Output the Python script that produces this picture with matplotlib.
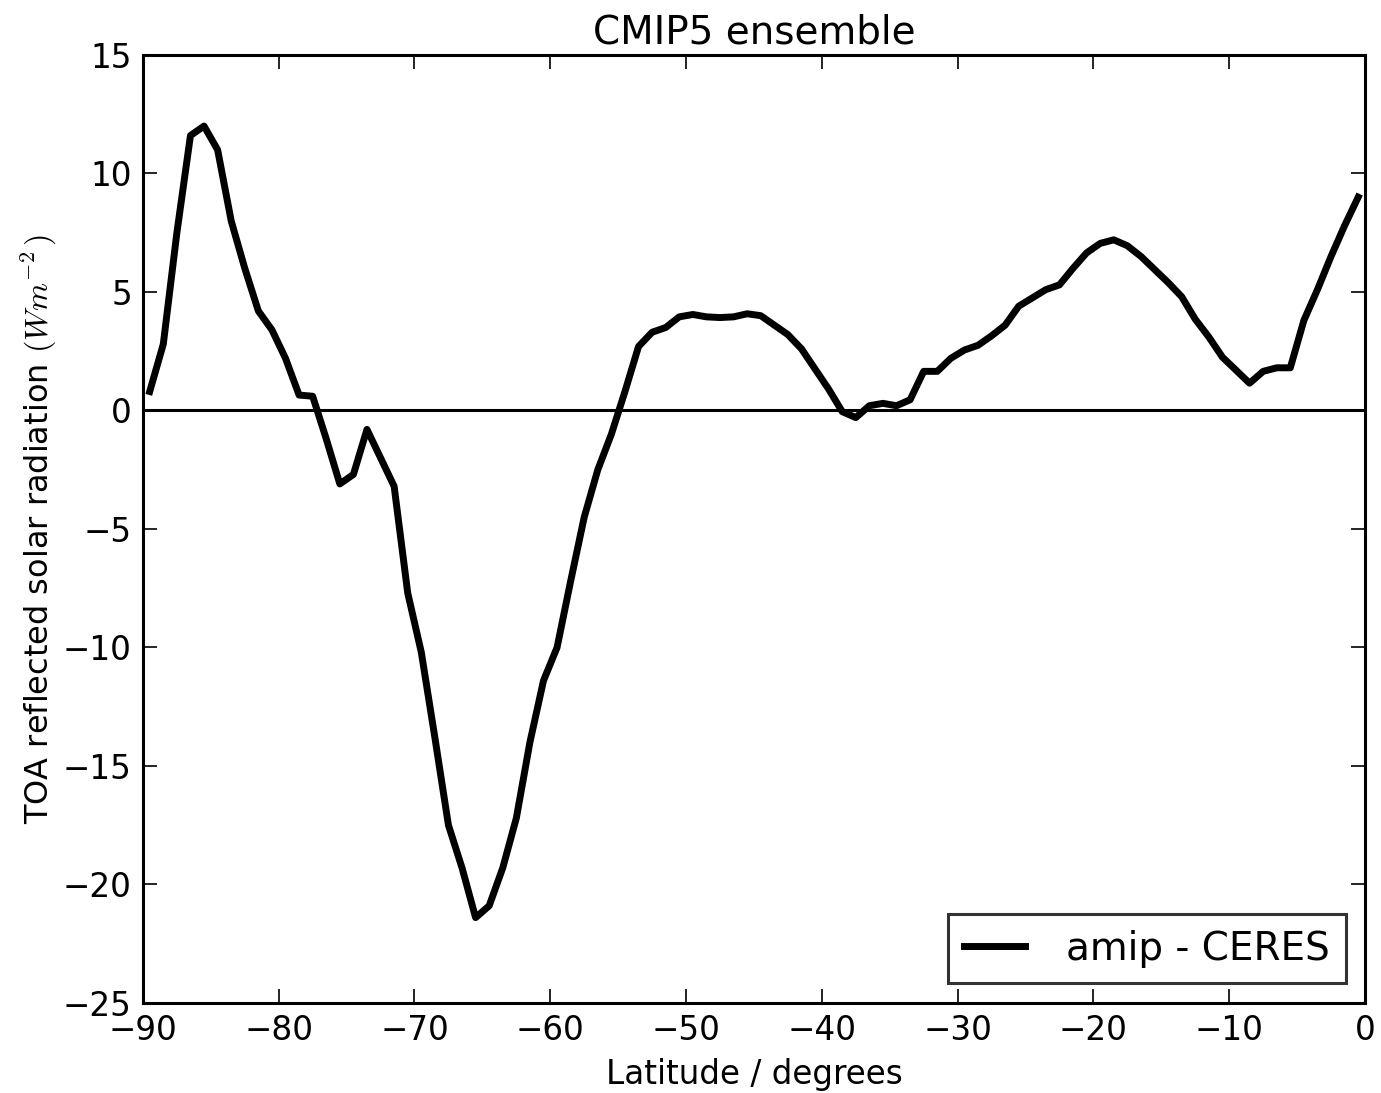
import numpy as np
import matplotlib
matplotlib.use("Agg")
import matplotlib.pyplot as plt

plt.rcParams["mathtext.fontset"] = "cm"

# 1 degree latitude grid (cell centres), -89.5 .. -0.5
lat = np.arange(-89.5, 0.0, 1.0)

# amip - CERES, TOA reflected SW difference (W m-2)
amip_minus_ceres = [
    0.8, 2.8, 7.5, 11.6, 12.0, 11.0, 8.0, 6.0, 4.2, 3.4,
    2.2, 0.65, 0.6, -1.2, -3.1, -2.7, -0.8, -2.0, -3.2, -7.7,
    -10.2, -13.8, -17.5, -19.3, -21.4, -20.9, -19.3, -17.2, -14.0, -11.4,
    -10.0, -7.2, -4.5, -2.5, -1.0, 0.8, 2.7, 3.3, 3.5, 3.95,
    4.05, 3.95, 3.92, 3.95, 4.08, 4.0, 3.6, 3.2, 2.6, 1.75,
    0.9, -0.05, -0.3, 0.2, 0.3, 0.2, 0.45, 1.65, 1.65, 2.2,
    2.55, 2.75, 3.15, 3.6, 4.4, 4.75, 5.1, 5.3, 6.0, 6.65,
    7.05, 7.2, 6.95, 6.5, 5.95, 5.4, 4.8, 3.85, 3.1, 2.25,
    1.7, 1.15, 1.65, 1.8, 1.8, 3.8, 5.1, 6.5, 7.8, 9.0,
]

xticks = [-90, -80, -70, -60, -50, -40, -30, -20, -10, 0]
yticks = [-25, -20, -15, -10, -5, 0, 5, 10, 15]

fig = plt.figure(figsize=(13.81, 10.93), dpi=100)
ax = fig.add_axes([0.1035, 0.0824, 0.8849, 0.8673])

ax.plot(lat, amip_minus_ceres, color="black", lw=5, label="amip - CERES")
ax.axhline(0, color="black", lw=2.2)

ax.set_xlim(-90, 0)
ax.set_ylim(-25, 15)
ax.set_xticks(xticks)
ax.set_yticks(yticks)
ax.tick_params(direction="in", length=10, width=1.2, top=True, right=True,
               labelsize=23.5, pad=8)
for s in ax.spines.values():
    s.set_linewidth(2.2)

ax.set_title("CMIP5 ensemble", fontsize=28, pad=8)
ax.set_xlabel("Latitude / degrees", fontsize=23.5, labelpad=8)
ax.set_ylabel(r"TOA reflected solar radiation $(Wm^{-2}\,)$", fontsize=23, labelpad=3)

leg = ax.legend(loc="lower right", fontsize=28, fancybox=False,
                handlelength=1.57, handletextpad=1.07, borderpad=0.4)
leg.get_frame().set_edgecolor("black")
leg.get_frame().set_linewidth(2.2)

fig.savefig("out.png", dpi=100)
